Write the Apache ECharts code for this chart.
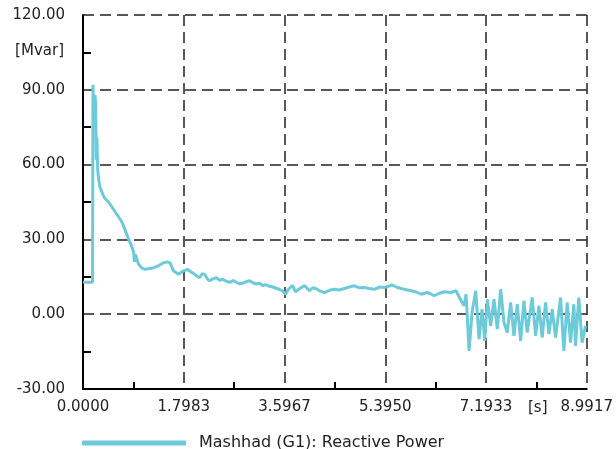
<!DOCTYPE html>
<html>
<head>
<meta charset="utf-8">
<script src="https://cdn.jsdelivr.net/npm/echarts@6/dist/echarts.min.js"></script>
<style>
html,body{margin:0;padding:0;background:#fff;}
#chart{width:616px;height:449px;}
</style>
</head>
<body>
<div id="chart"></div>
<script>
// time [s]
var times = [0.000,0.170,0.178,0.196,0.214,0.226,0.237,0.249,0.262,0.280,0.303,0.338,0.374,0.410,0.458,0.516,0.575,0.636,0.694,0.748,0.814,0.855,0.903,0.917,0.935,0.992,1.051,1.109,1.229,1.348,1.425,1.496,1.555,1.615,1.704,1.793,1.870,1.923,1.994,2.040,2.083,2.130,2.172,2.220,2.261,2.320,2.381,2.440,2.493,2.560,2.618,2.680,2.737,2.790,2.849,2.910,2.974,3.030,3.093,3.150,3.205,3.270,3.330,3.390,3.449,3.510,3.561,3.615,3.668,3.739,3.793,3.864,3.953,4.042,4.100,4.161,4.230,4.309,4.400,4.487,4.570,4.665,4.750,4.843,4.930,5.021,5.110,5.199,5.290,5.377,5.450,5.520,5.600,5.680,5.770,5.858,5.950,6.036,6.143,6.200,6.268,6.350,6.446,6.570,6.659,6.748,6.802,6.838,6.891,6.944,7.010,7.069,7.123,7.171,7.217,7.277,7.336,7.395,7.455,7.514,7.573,7.633,7.692,7.751,7.812,7.870,7.929,8.018,8.079,8.138,8.196,8.257,8.316,8.375,8.435,8.524,8.583,8.642,8.702,8.761,8.791,8.850,8.908,8.969];
// Reactive power [Mvar]
var reactivePower = [12.8,12.8,92.0,75.0,88.0,84.0,62.0,71.0,58.0,54.0,51.0,49.0,47.0,46.0,45.0,43.0,41.0,39.0,37.0,34.0,30.0,28.0,25.0,21.0,24.0,20.0,18.5,18.0,18.4,19.4,20.5,21.0,20.6,17.4,16.0,17.4,18.0,17.0,16.0,15.2,14.7,16.3,16.0,14.2,13.4,14.2,14.7,13.6,14.0,13.2,12.8,13.5,12.8,12.2,12.4,13.0,13.4,12.6,12.1,12.4,11.5,11.8,11.2,10.9,10.4,9.9,9.4,8.0,10.0,11.5,9.0,10.2,11.5,9.4,10.6,10.2,9.3,8.7,9.6,10.0,9.7,10.3,10.9,11.4,10.6,10.7,10.3,10.0,10.9,10.7,11.2,11.7,10.8,10.3,9.8,9.4,8.9,8.0,8.7,8.2,7.4,8.3,9.0,8.7,9.4,5.4,3.4,8.0,-14.7,0.7,9.4,-10.0,2.0,-10.7,6.0,-4.7,6.0,-6.0,10.0,-3.3,-7.4,4.7,-8.7,4.0,-10.7,5.4,-7.4,6.7,-8.7,3.4,-9.4,4.7,-8.0,2.0,-9.4,6.7,-14.7,4.7,-11.4,4.0,-12.7,6.7,-11.4,-4.7];
var xTickLabels = ['0.0000','1.7983','3.5967','5.3950','7.1933','8.9917'];
var yTickValues = [-30, 0, 30, 60, 90, 120];
var seriesName = 'Mashhad (G1): Reactive Power';
var yUnit = '[Mvar]';
var xUnit = '[s]';

var xInterval = 8.9917 / 5;
var xMax = xInterval * 5;
var data = times.map(function (t, i) { return [t, reactivePower[i]]; });

var font = 'DejaVu Sans';
var txtColor = '#222';
var chart = echarts.init(document.getElementById('chart'));
chart.setOption({
  animation: false,
  grid: { left: 83, right: 29, top: 15, bottom: 60 },
  legend: {
    left: 77, top: 430,
    itemWidth: 104, itemHeight: 5, icon: 'roundRect',
    textStyle: { fontFamily: font, fontSize: 16, color: txtColor, padding: [0, 0, 0, 8] },
    data: [seriesName]
  },
  xAxis: {
    type: 'value', min: 0, max: xMax, interval: xInterval,
    axisLine: { onZero: false, lineStyle: { color: '#000', width: 2 } },
    axisTick: { show: true, inside: true, length: 0, lineStyle: { color: '#000', width: 2 } },
    minorTick: { show: true, splitNumber: 2, length: 7, lineStyle: { color: '#000', width: 2 } },
    axisLabel: {
      margin: 11, fontFamily: font, fontSize: 15, color: txtColor,
      formatter: function (v) { return xTickLabels[Math.round(v / xInterval)]; }
    },
    splitLine: { show: true, lineStyle: { color: '#222', width: 1.5, type: [11, 6] } }
  },
  yAxis: {
    type: 'value', min: yTickValues[0], max: yTickValues[yTickValues.length - 1], interval: 30,
    axisLine: { show: true, onZero: false, lineStyle: { color: '#000', width: 2 } },
    axisTick: { show: true, inside: true, length: 0, lineStyle: { color: '#000', width: 2 } },
    minorTick: { show: true, splitNumber: 2, length: 8, lineStyle: { color: '#000', width: 2 } },
    axisLabel: {
      margin: 18, fontFamily: font, fontSize: 15, color: txtColor,
      formatter: function (v) { return v.toFixed(2); }
    },
    splitLine: { show: true, lineStyle: { color: '#222', width: 1.5, type: [11, 6] } }
  },
  graphic: [
    { type: 'text', right: 616 - 64, top: 44, style: { text: yUnit, font: '15px "DejaVu Sans"', fill: txtColor } },
    { type: 'text', left: 528, top: 401, style: { text: xUnit, font: '15px "DejaVu Sans"', fill: txtColor } }
  ],
  series: [{
    name: seriesName, type: 'line', data: data,
    showSymbol: false, symbol: 'none',
    lineStyle: { color: '#6ccad9', width: 3 },
    itemStyle: { color: '#6ccad9' }
  }]
});
</script>
</body>
</html>
